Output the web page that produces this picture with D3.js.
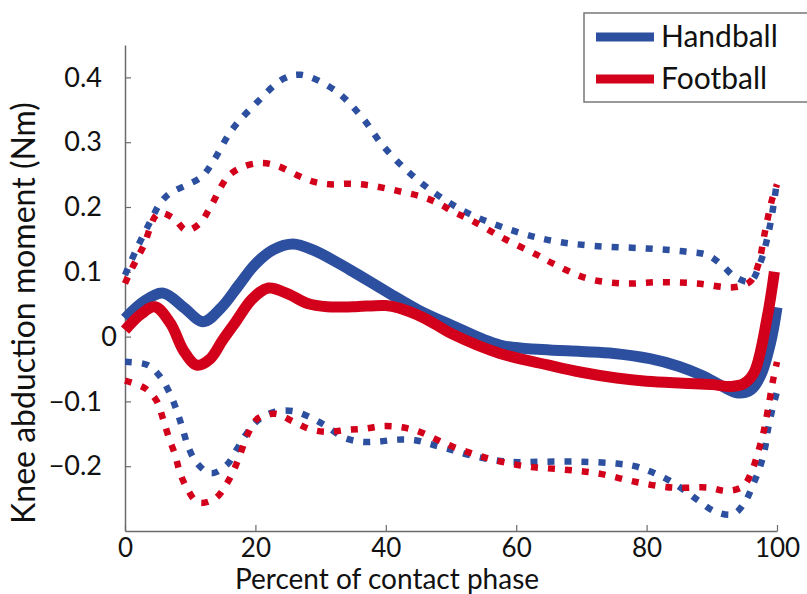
<!DOCTYPE html>
<html>
<head>
<meta charset="utf-8">
<script src="https://d3js.org/d3.v7.min.js"></script>
<style>
  body { margin: 0; background: #fff; }
  text { font-family: Lato, "Open Sans", sans-serif; fill: #111; }
</style>
</head>
<body>
<script>

var w = 807, h = 594;
var plotLeft = 125, plotTop = 45, plotRight = 777, plotBottom = 531;

// percent of contact phase vs knee abduction moment (Nm)
var handballMean = [[0,0.028],[3,0.055],[5.9,0.067],[9,0.045],[12,0.023],[14.8,0.045],[17.5,0.08],[20,0.112],[22.7,0.134],[25.8,0.143],[29,0.133],[34.5,0.103],[40,0.07],[45,0.041],[50,0.018],[57.5,-0.013],[64,-0.02],[70,-0.023],[75,-0.026],[80.5,-0.034],[85,-0.046],[88.5,-0.06],[91.5,-0.076],[94,-0.087],[96,-0.082],[97.5,-0.06],[99,-0.01],[100,0.045]];

var footballMean = [[0,0.01],[2.5,0.035],[4.6,0.046],[7,0.02],[9,-0.022],[11,-0.044],[13,-0.035],[15,-0.005],[17,0.023],[19.5,0.058],[22,0.075],[25,0.066],[28,0.051],[31,0.046],[35,0.046],[40,0.048],[42,0.044],[46,0.028],[50,0.005],[57.5,-0.026],[65,-0.044],[70,-0.055],[75.4,-0.064],[80,-0.069],[85.6,-0.072],[90,-0.074],[93,-0.077],[95,-0.072],[96.5,-0.055],[98.5,0.03],[99.6,0.1]];

var handballUpper = [[0,0.095],[2,0.14],[4,0.18],[5.4,0.206],[7,0.222],[9.5,0.234],[11.8,0.247],[13.5,0.27],[16.4,0.319],[20.2,0.361],[24.3,0.398],[27,0.404],[32.2,0.38],[36.3,0.339],[39.6,0.294],[43.7,0.252],[48,0.218],[52.9,0.189],[60.6,0.16],[66,0.147],[72,0.14],[80,0.136],[86.2,0.131],[89.3,0.126],[91.6,0.11],[93.6,0.092],[95.9,0.085],[97.4,0.113],[98.9,0.17],[100,0.24]];

var footballUpper = [[0,0.082],[0.8,0.1],[2.8,0.139],[5.1,0.19],[7.4,0.183],[9.4,0.164],[11.5,0.175],[13,0.198],[15.8,0.247],[18.1,0.262],[21,0.268],[23.5,0.263],[26.4,0.249],[28.9,0.239],[31.4,0.235],[34.2,0.236],[37.1,0.234],[39.9,0.229],[42.6,0.223],[45.5,0.216],[48,0.206],[50.3,0.193],[53.2,0.179],[58,0.152],[63.2,0.126],[65.6,0.113],[70.8,0.09],[76.4,0.082],[82,0.084],[87.7,0.082],[93.3,0.076],[95.9,0.085],[97.1,0.11],[98.2,0.164],[99.2,0.21],[100,0.235]];

var handballLower = [[0,-0.039],[3.5,-0.044],[5.4,-0.062],[6.9,-0.088],[8,-0.116],[8.8,-0.141],[9.7,-0.17],[11,-0.195],[13.2,-0.211],[15.6,-0.198],[17.2,-0.173],[18.7,-0.149],[20.4,-0.129],[23,-0.116],[25.8,-0.115],[28.7,-0.126],[31,-0.139],[33.4,-0.155],[36,-0.162],[38.8,-0.162],[41.7,-0.159],[44.5,-0.16],[47.2,-0.167],[50.2,-0.175],[52.9,-0.183],[58.6,-0.193],[64.1,-0.193],[69.8,-0.193],[75.4,-0.196],[78.2,-0.2],[80.8,-0.209],[83.3,-0.221],[85.9,-0.238],[88.2,-0.255],[90.5,-0.27],[93.3,-0.274],[95.1,-0.255],[96.3,-0.229],[97.4,-0.201],[98.2,-0.17],[98.6,-0.144],[99.2,-0.116],[100,-0.085]];

var footballLower = [[0,-0.068],[3.1,-0.08],[4.9,-0.1],[5.8,-0.126],[6.7,-0.155],[7.7,-0.183],[8.4,-0.209],[9.5,-0.234],[11.2,-0.256],[13.8,-0.25],[15.6,-0.227],[16.9,-0.201],[17.9,-0.175],[18.9,-0.149],[20.4,-0.126],[23,-0.119],[25.8,-0.131],[28.4,-0.143],[31.1,-0.147],[34,-0.144],[36.8,-0.142],[39.6,-0.138],[42.5,-0.14],[45.2,-0.147],[47.8,-0.159],[50.3,-0.17],[55.7,-0.188],[61.3,-0.2],[67,-0.205],[72.5,-0.211],[78.2,-0.224],[83.9,-0.233],[89.4,-0.233],[92.3,-0.238],[94.8,-0.231],[96.2,-0.206],[97.1,-0.178],[97.9,-0.149],[98.6,-0.113],[99.4,-0.067],[100,-0.039]];

var xTicks = [0, 20, 40, 60, 80, 100];
var yTicks = [-0.2, -0.1, 0, 0.1, 0.2, 0.3, 0.4];
var legendNames = ["Handball", "Football"];

var blue = "#2d4f9f", red = "#d2001a";

var svg = d3.select("body").append("svg").attr("width", w).attr("height", h);

var x = d3.scaleLinear().domain([0, 100]).range([plotLeft, plotRight]);
var y = d3.scaleLinear().domain([-0.3, 0.45]).range([plotBottom, plotTop]);

var line = d3.line()
  .x(function(d){ return x(d[0]); })
  .y(function(d){ return y(d[1]); })
  .curve(d3.curveCatmullRom.alpha(0.5));

// axes first, lines on top
var fmt = d3.format(".1f");
var yAxis = svg.append("g").attr("transform", "translate(" + plotLeft + ",0)")
  .call(d3.axisLeft(y).tickValues(yTicks).tickSizeInner(-6).tickSizeOuter(0).tickPadding(23)
    .tickFormat(function(d){ return d === 0 ? "0" : fmt(d); }));

var xAxis = svg.append("g").attr("transform", "translate(0," + plotBottom + ")")
  .call(d3.axisBottom(x).tickValues(xTicks).tickSizeInner(-6).tickSizeOuter(0).tickPadding(8));

[yAxis, xAxis].forEach(function(g){
  g.select(".domain").attr("stroke", "#6b6b6b").attr("stroke-width", 1.5);
  g.selectAll(".tick line").attr("stroke", "#6b6b6b").attr("stroke-width", 1.2);
  g.selectAll(".tick text").attr("font-family", "Lato, sans-serif").attr("fill", "#111");
});
yAxis.selectAll(".tick text").attr("font-size", "27px");
xAxis.selectAll(".tick text").attr("font-size", "26px");
// the zero label sits closer to the axis in the original
yAxis.selectAll(".tick text").filter(function(d){ return d === 0; }).attr("x", -8);

var dotted = [[handballUpper, blue], [handballLower, blue], [footballUpper, red], [footballLower, red]];
svg.selectAll("path.band")
  .data(dotted).enter().append("path")
  .attr("class", "band")
  .attr("d", function(d){ return line(d[0]); })
  .attr("fill", "none")
  .attr("stroke", function(d){ return d[1]; })
  .attr("stroke-width", 6.5)
  .attr("stroke-dasharray", "7,10");

svg.selectAll("path.mean")
  .data([[handballMean, blue], [footballMean, red]]).enter().append("path")
  .attr("class", "mean")
  .attr("d", function(d){ return line(d[0]); })
  .attr("fill", "none")
  .attr("stroke", function(d){ return d[1]; })
  .attr("stroke-width", 11)
  .attr("stroke-linejoin", "round");

// axis titles
svg.append("text")
  .attr("x", 387).attr("y", 589)
  .attr("text-anchor", "middle")
  .attr("font-size", "28px")
  .text("Percent of contact phase");

svg.append("text")
  .attr("transform", "translate(35,313) rotate(-90)")
  .attr("text-anchor", "middle")
  .attr("font-size", "32px")
  .text("Knee abduction moment (Nm)");

// legend
var legend = svg.append("g");
legend.append("rect")
  .attr("x", 584).attr("y", 13).attr("width", 240).attr("height", 89)
  .attr("fill", "#fff").attr("stroke", "#777").attr("stroke-width", 1.5);

legend.selectAll("line")
  .data(legendNames).enter().append("line")
  .attr("x1", 596).attr("x2", 654)
  .attr("y1", function(d, i){ return 37 + i * 42; })
  .attr("y2", function(d, i){ return 37 + i * 42; })
  .attr("stroke", function(d, i){ return i === 0 ? blue : red; })
  .attr("stroke-width", 9);

legend.selectAll("text")
  .data(legendNames).enter().append("text")
  .attr("x", 661)
  .attr("y", function(d, i){ return 47 + i * 42; })
  .attr("font-size", "30px")
  .text(function(d){ return d; });

</script>
</body>
</html>
